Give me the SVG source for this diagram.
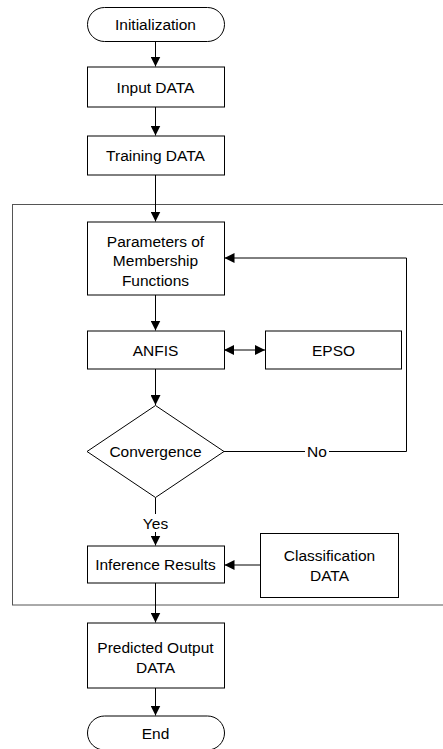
<svg xmlns="http://www.w3.org/2000/svg" width="443" height="749" viewBox="0 0 443 749">
<style>
.box{fill:#fff;stroke:#000;stroke-width:1}
.t{font-family:"Liberation Sans",Arial,sans-serif;font-size:15.5px;fill:#000;text-anchor:middle}
.c{fill:none;stroke:#000;stroke-width:1}
.frame{fill:none;stroke:#555;stroke-width:1}
</style>
<defs>
<marker id="ah" viewBox="0 0 10 10" refX="10" refY="5" markerWidth="10" markerHeight="10" markerUnits="userSpaceOnUse" orient="auto-start-reverse">
<path d="M0,0 L10,5 L0,10 Z" fill="#000"/>
</marker>
</defs>
<rect width="443" height="749" fill="#fff"/>
<rect id="frame" class="frame" x="12.5" y="204.5" width="450" height="400.5"/>
<g id="connectors">
<path class="c" d="M155.5,41 V66.5" marker-end="url(#ah)"/>
<path class="c" d="M155.5,107 V135.5" marker-end="url(#ah)"/>
<path class="c" d="M155.5,175 V221.5" marker-end="url(#ah)"/>
<path class="c" d="M155.5,295 V330.5" marker-end="url(#ah)"/>
<path class="c" d="M224,350 H265" marker-start="url(#ah)" marker-end="url(#ah)"/>
<path class="c" d="M155.5,369 V405" marker-end="url(#ah)"/>
<path class="c" d="M224,451.5 H406.5 V258 H224.5" marker-end="url(#ah)"/>
<path class="c" d="M155.5,497.5 V545.5" marker-end="url(#ah)"/>
<path class="c" d="M260,565 H224.5" marker-end="url(#ah)"/>
<path class="c" d="M155.5,583 V622.5" marker-end="url(#ah)"/>
<path class="c" d="M155.5,688 V715.5" marker-end="url(#ah)"/>
<rect x="305" y="443" width="24" height="17" fill="#fff"/>
<text class="t" x="317" y="457">No</text>
<rect x="140" y="514" width="31" height="18" fill="#fff"/>
<text class="t" x="155.5" y="528.5">Yes</text>
</g>
<g id="init">
<rect class="box" x="87.5" y="7.5" width="137" height="34" rx="17" ry="17"/>
<text class="t" x="155.5" y="29.5">Initialization</text>
</g>
<g id="input">
<rect class="box" x="87.5" y="67" width="137" height="40"/>
<text class="t" x="155.5" y="92.5">Input DATA</text>
</g>
<g id="training">
<rect class="box" x="87.5" y="136" width="137" height="39"/>
<text class="t" x="155.5" y="161">Training DATA</text>
</g>
<g id="params">
<rect class="box" x="87.5" y="222" width="137" height="73"/>
<text class="t" x="155.5" y="246.5">Parameters of</text>
<text class="t" x="155.5" y="266">Membership</text>
<text class="t" x="155.5" y="285.5">Functions</text>
</g>
<g id="anfis">
<rect class="box" x="87.5" y="331" width="137" height="38"/>
<text class="t" x="155.5" y="355.5">ANFIS</text>
</g>
<g id="epso">
<rect class="box" x="265.5" y="331" width="136" height="38"/>
<text class="t" x="333.5" y="355.5">EPSO</text>
</g>
<g id="convergence">
<polygon class="box" points="155.5,405.5 224,451.5 155.5,497.5 87,451.5"/>
<text class="t" x="155.5" y="457">Convergence</text>
</g>
<g id="inference">
<rect class="box" x="87.5" y="546" width="137" height="37"/>
<text class="t" x="155.5" y="570">Inference Results</text>
</g>
<g id="classification">
<rect class="box" x="260.5" y="533.5" width="138" height="64"/>
<text class="t" x="329.5" y="561">Classification</text>
<text class="t" x="329.5" y="580.5">DATA</text>
</g>
<g id="predicted">
<rect class="box" x="87.5" y="623" width="137" height="65"/>
<text class="t" x="155.5" y="652.5">Predicted Output</text>
<text class="t" x="155.5" y="672.5">DATA</text>
</g>
<g id="end">
<rect class="box" x="87.5" y="716" width="137" height="34" rx="17" ry="17"/>
<text class="t" x="155.5" y="738.5">End</text>
</g>
</svg>
